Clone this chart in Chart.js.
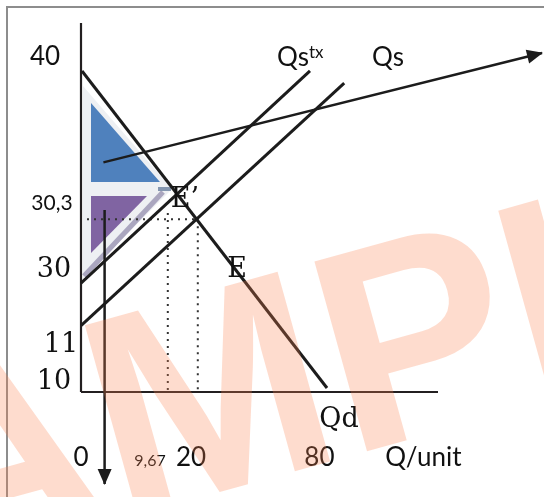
<!DOCTYPE html>
<html><head><meta charset="utf-8">
<script src="https://cdn.jsdelivr.net/npm/chart.js@4.4.1/dist/chart.umd.min.js"></script>
<style>
html,body{margin:0;padding:0;background:#fff;overflow:hidden;}
#wrap{position:relative;width:544px;height:497px;overflow:hidden;}
#frame{position:absolute;left:6px;top:6px;width:700px;height:700px;border-top:2px solid #8d8d8d;border-left:2px solid #8d8d8d;}
canvas{position:absolute;left:0;top:0;}
</style></head><body>
<div id="wrap"><div id="frame"></div><canvas id="c" width="544" height="497"></canvas></div>
<script>
// ---- Diagram data (schematic units, origin = corner of the axes) ----
const xAxisLine     = [{x:0,y:0},{x:89.25,y:0}];
const yAxisLine     = [{x:0,y:92.25},{x:0,y:0}];
const demandQd      = [{x:0.25,y:80.25},{x:61.5,y:1}];
const supplyQs      = [{x:0,y:16.6},{x:65.8,y:77.2}];
const supplyTaxQstx = [{x:0,y:27.2},{x:57.25,y:80.3}];
const pointerArrow  = [{x:5.6,y:57.4},{x:115.25,y:84.75}];
const downArrow     = [{x:5.9,y:45.5},{x:5.9,y:-23}];
const dotPriceLine  = [{x:-0.25,y:43.2},{x:29.2,y:43.2}];
const dotQtyTax     = [{x:21.7,y:44.75},{x:21.7,y:0}];
const dotQtyEq      = [{x:29.2,y:43.2},{x:29.2,y:0}];
const surplusArea   = [{x:0.5,y:76.5},{x:22.75,y:50.75},{x:0.5,y:28.5},{x:0.5,y:76.5}];
const consumerTri   = [{x:2.5,y:72.25},{x:19.75,y:52.5},{x:2.5,y:52.5},{x:2.5,y:72.25}];
const producerTri   = [{x:2.5,y:49},{x:16.5,y:49},{x:2.5,y:34.75},{x:2.5,y:49}];
const producerEdge  = [{x:0.75,y:29},{x:20.5,y:50}];
const taxEdge       = [{x:19.25,y:50.75},{x:22.5,y:50.75}];

const labelText = ['40','30,3','30','11','10','0','9,67','20','80','Q/unit','Qd','E','E\u2019','Qs','Qs','tx'];
const labelX    = [-9,-7.25,-6.75,-5,-6.75,0,17.25,27.5,59.6,85.6,64.5,39,26,76.75,53,57];
const labelY    = [83.75,47.25,30.5,11.75,2.5,-16.5,-17.25,-16.5,-16.5,-16.5,-7,30.5,48,83.5,83.5,84.75];

// ---- styles ----
const SANS = 'Lato, "Open Sans", sans-serif';
const SERIF = '"DejaVu Serif", "Liberation Serif", serif';
const labelFont = ['26px '+SANS,'21px '+SANS,'27px '+SERIF,'27px '+SERIF,'27px '+SERIF,'26px '+SANS,'16px '+SANS,
  '26px '+SANS,'26px '+SANS,'26px '+SANS,'27px '+SERIF,'27px '+SERIF,'27px '+SERIF,'26px '+SANS,'26px '+SANS,'17px '+SANS];
const labelAlign = labelText.map((t,i)=> i===15 ? 'left' : 'center');
const INK = '#1c1c1c';

function ds(data, opts){
  return Object.assign({type:'line', data, borderColor:INK, borderWidth:3, pointRadius:0,
    fill:false, tension:0, borderCapStyle:'butt', backgroundColor:'transparent'}, opts);
}

const overlay = {
  id:'overlay',
  afterDatasetsDraw(chart){
    const {ctx, scales:{x, y}} = chart;
    const px = p => ({x:x.getPixelForValue(p.x), y:y.getPixelForValue(p.y)});
    [pointerArrow, downArrow].forEach(seg=>{
      const a = px(seg[0]), b = px(seg[1]);
      const ang = Math.atan2(b.y-a.y, b.x-a.x);
      ctx.save(); ctx.translate(b.x,b.y); ctx.rotate(ang);
      ctx.beginPath(); ctx.moveTo(1,0); ctx.lineTo(-15,-7); ctx.lineTo(-15,7); ctx.closePath();
      ctx.fillStyle = INK; ctx.fill(); ctx.restore();
    });
    ctx.save();
    ctx.fillStyle = '#111';
    ctx.textBaseline = 'middle';
    labelText.forEach((t,i)=>{
      ctx.font = labelFont[i];
      ctx.textAlign = labelAlign[i];
      ctx.fillText(t, x.getPixelForValue(labelX[i]), y.getPixelForValue(labelY[i]));
    });
    ctx.restore();
  },
  afterDraw(chart){
    const ctx = chart.ctx;
    ctx.save();
    ctx.translate(119,520);
    ctx.rotate(-15.5*Math.PI/180);
    ctx.font = 'bold 286px "Liberation Sans", Arial, sans-serif';
    ctx.fillStyle = 'rgba(250,128,80,0.28)';
    ctx.textBaseline = 'alphabetic';
    ctx.textAlign = 'left';
    const off = ctx.measureText('SA').width;
    ctx.fillText('SAMPLE', -off, 0);
    ctx.restore();
  }
};

new Chart(document.getElementById('c'), {
  type:'line',
  data:{datasets:[
    ds(pointerArrow,{borderWidth:2.5, order:1}),
    ds(downArrow,{borderWidth:2.5, order:2}),
    ds(demandQd,{order:3}),
    ds(supplyTaxQstx,{order:4}),
    ds(supplyQs,{order:5}),
    ds(xAxisLine,{borderWidth:2.2, borderColor:'#231f20', order:6}),
    ds(yAxisLine,{borderWidth:2.2, borderColor:'#231f20', order:7}),
    ds(dotPriceLine,{borderWidth:2, borderDash:[2,5], borderColor:'#333', order:8}),
    ds(dotQtyTax,{borderWidth:2, borderDash:[2,5], borderColor:'#333', order:9}),
    ds(dotQtyEq,{borderWidth:2, borderDash:[2,5], borderColor:'#333', order:10}),
    ds(taxEdge,{borderWidth:4, borderColor:'#8496b0', order:11}),
    ds(producerEdge,{borderWidth:5, borderColor:'#aaa6bf', order:12}),
    ds(producerTri,{borderWidth:0, borderColor:'#8064a2', backgroundColor:'#8064a2', fill:'shape', order:13}),
    ds(consumerTri,{borderWidth:0, borderColor:'#4f81bd', backgroundColor:'#4f81bd', fill:'shape', order:14}),
    ds(surplusArea,{borderWidth:0, borderColor:'#eef0f3', backgroundColor:'#eef0f3', fill:'shape', order:15})
  ]},
  options:{
    responsive:false, animation:false, events:[],
    layout:{padding:0},
    scales:{
      x:{type:'linear', display:false, min:-20.25, max:115.75},
      y:{type:'linear', display:false, min:-26.25, max:98}
    },
    plugins:{legend:{display:false}, tooltip:{enabled:false}}
  },
  plugins:[overlay]
});
</script>
</body></html>
